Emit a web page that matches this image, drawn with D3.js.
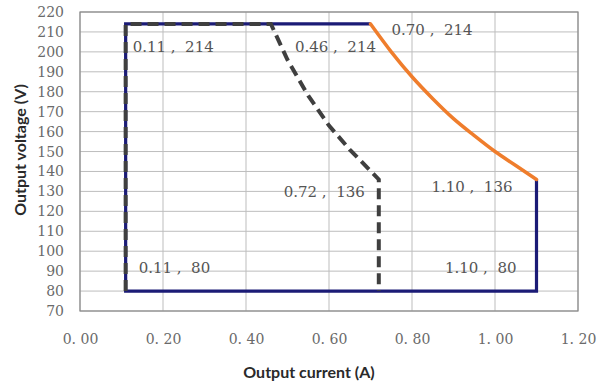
<!DOCTYPE html>
<html>
<head>
<meta charset="utf-8">
<script src="https://cdn.jsdelivr.net/npm/d3@7"></script>
<style>
  body { margin: 0; background: #fff; }
  svg { display: block; }
</style>
</head>
<body>
<div id="chart"></div>
<script>
// rated envelope (navy), constant power edge (orange), derated envelope (dashed)
var envelope = [[0.70, 214], [0.11, 214], [0.11, 80], [1.10, 80], [1.10, 136]];
var powerEdge = [[0.70, 214], [0.75, 200], [0.80, 187.5], [0.85, 176.5], [0.90, 166.5],
                 [0.95, 158], [1.00, 150], [1.05, 143], [1.10, 136]];
var derated = [[0.11, 80], [0.11, 214], [0.46, 214], [0.50, 196], [0.55, 178],
               [0.60, 163], [0.65, 151], [0.72, 136], [0.72, 80]];
var labels = [[0.11, 214], [0.46, 214], [0.70, 214], [0.72, 136], [1.10, 136], [0.11, 80], [1.10, 80]];
var xTicks = [0, 0.2, 0.4, 0.6, 0.8, 1.0, 1.2];
var yTicks = d3.range(70, 221, 10);

var width = 604, height = 385;
var margin = {top: 12, right: 26, bottom: 74, left: 80};

var svg = d3.select("#chart").append("svg")
    .attr("width", width)
    .attr("height", height);

var x = d3.scaleLinear().domain([0, 1.2]).range([margin.left, width - margin.right]);
var y = d3.scaleLinear().domain([70, 220]).range([height - margin.bottom, margin.top]);

// grid
svg.append("g").selectAll("line").data(yTicks).enter().append("line")
    .attr("x1", x(0)).attr("x2", x(1.2))
    .attr("y1", function(d) { return y(d); })
    .attr("y2", function(d) { return y(d); })
    .attr("stroke", "#bdbdbd").attr("stroke-width", 1);
svg.append("g").selectAll("line").data(xTicks).enter().append("line")
    .attr("y1", y(70)).attr("y2", y(220))
    .attr("x1", function(d) { return x(d); })
    .attr("x2", function(d) { return x(d); })
    .attr("stroke", "#bdbdbd").attr("stroke-width", 1);
svg.append("rect")
    .attr("x", x(0)).attr("y", y(220))
    .attr("width", x(1.2) - x(0)).attr("height", y(70) - y(220))
    .attr("fill", "none").attr("stroke", "#8a8a8a").attr("stroke-width", 1.2);

// axes
var xAxis = d3.axisBottom(x).tickValues(xTicks).tickSize(0)
    .tickFormat(function(d) { return d3.format(".2f")(d).replace(".", ". "); });
var gx = svg.append("g").attr("transform", "translate(0," + (y(70) + 20) + ")").call(xAxis);
var yAxis = d3.axisLeft(y).tickValues(yTicks).tickSize(0);
var gy = svg.append("g").attr("transform", "translate(" + (x(0) - 13) + ",0)").call(yAxis);
[gx, gy].forEach(function(g) {
    g.select(".domain").remove();
    g.selectAll("text")
        .attr("font-family", "DejaVu Serif")
        .attr("font-size", 14)
        .attr("fill", "#6a6a6a")
        .style("white-space", "pre");
});

svg.append("text")
    .attr("x", 309).attr("y", 378)
    .attr("text-anchor", "middle")
    .attr("font-family", "Lato").attr("font-weight", "bold").attr("font-size", 16)
    .attr("fill", "#2a2a2a")
    .text("Output current (A)");
svg.append("text")
    .attr("transform", "translate(26,150) rotate(-90)")
    .attr("text-anchor", "middle")
    .attr("font-family", "Lato").attr("font-weight", "bold").attr("font-size", 16)
    .attr("fill", "#2a2a2a")
    .text("Output voltage (V)");

// series
var line = d3.line().x(function(d) { return x(d[0]); }).y(function(d) { return y(d[1]); });
svg.append("path").datum(envelope)
    .attr("d", line).attr("fill", "none")
    .attr("stroke", "#1b1b76").attr("stroke-width", 3.2).attr("stroke-linejoin", "miter");
svg.append("path").datum(powerEdge)
    .attr("d", line.curve(d3.curveMonotoneX)).attr("fill", "none")
    .attr("stroke", "#ef7d2c").attr("stroke-width", 3.5).attr("stroke-linecap", "round");
line.curve(d3.curveLinear);
svg.append("path").datum(derated)
    .attr("d", line).attr("fill", "none")
    .attr("stroke", "#3f3f3f").attr("stroke-width", 4)
    .attr("stroke-dasharray", "11,6");

// point labels
var offsets = [[7, 28, "start"], [24, 28, "start"], [21, 11, "start"], [-14, 18, "end"],
               [-24, 13, "end"], [13, -18, "start"], [-20, -18, "end"]];
svg.append("g").selectAll("text").data(labels).enter().append("text")
    .attr("x", function(d, i) { return x(d[0]) + offsets[i][0]; })
    .attr("y", function(d, i) { return y(d[1]) + offsets[i][1]; })
    .attr("text-anchor", function(d, i) { return offsets[i][2]; })
    .attr("font-family", "DejaVu Serif").attr("font-size", 15)
    .attr("fill", "#555")
    .style("white-space", "pre")
    .text(function(d) { return d3.format(".2f")(d[0]) + " ,  " + d[1]; });
</script>
</body>
</html>
